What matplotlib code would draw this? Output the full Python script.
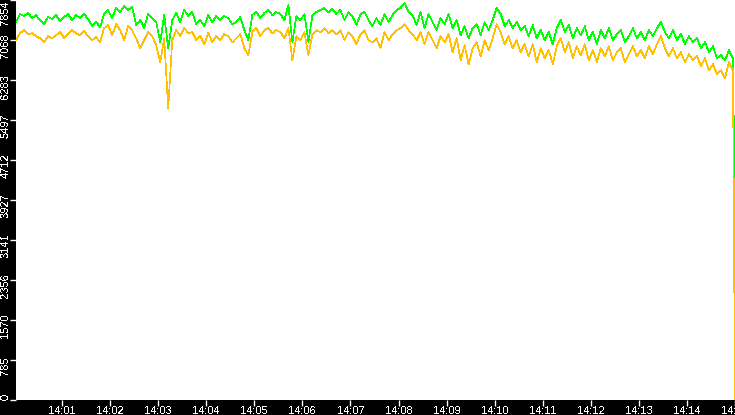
import numpy as np
import pandas as pd
import matplotlib
matplotlib.use('Agg')
import matplotlib.pyplot as plt
import matplotlib.dates as mdates
from matplotlib.ticker import FixedLocator, FuncFormatter
from matplotlib.transforms import ScaledTranslation

plt.rcParams['font.family'] = ['Liberation Sans', 'DejaVu Sans']
plt.rcParams['text.antialiased'] = False

# samples every 5 s starting 14:00:02.5, last sample at 14:15:00
start_time = '2024-01-01 14:00:02.500'
step = '5s'
end_time = '2024-01-01 14:15:00'

green_vals = [
    7420, 7578, 7538, 7598, 7499, 7558, 7459, 7380, 7519, 7479, 7558, 7440, 7519, 7578, 7459,
    7558, 7499, 7578, 7479, 7341, 7420, 7321, 7578, 7657, 7499, 7696, 7617, 7736, 7657, 7716,
    7361, 7459, 7302, 7578, 7499, 7420, 7025, 7558, 6907, 7459, 7598, 7420, 7657, 7538, 7617,
    7380, 7459, 7341, 7558, 7420, 7538, 7459, 7538, 7499, 7380, 7420, 7519, 7262, 7065, 7558,
    7617, 7499, 7598, 7657, 7558, 7617, 7578, 7459, 7755, 7025, 7538, 7459, 7578, 7025, 7558,
    7617, 7657, 7696, 7617, 7676, 7578, 7657, 7459, 7617, 7538, 7361, 7578, 7617, 7459, 7341,
    7499, 7361, 7578, 7420, 7558, 7657, 7696, 7795, 7617, 7558, 7361, 7617, 7302, 7578, 7420,
    7262, 7499, 7380, 7578, 7302, 7459, 7163, 7341, 7104, 7302, 7380, 7163, 7420, 7262, 7459,
    7696, 7578, 7341, 7459, 7302, 7420, 7262, 7341, 7144, 7361, 7104, 7262, 7065, 7223, 6986,
    7302, 7459, 7223, 7361, 7104, 7302, 7163, 7341, 7065, 7223, 6986, 7262, 7104, 7302, 7065,
    7183, 7262, 7025, 7144, 7302, 7104, 7223, 7065, 7262, 7144, 7302, 7420, 7223, 7104, 7262,
    7065, 7183, 6986, 7144, 7025, 7104, 6907, 7025, 6828, 6946, 6710, 6769, 6670, 6868, 6710,
    3270,
]

yellow_vals = [
    7065, 7203, 7262, 7183, 7203, 7144, 7104, 7025, 7144, 7104, 7163, 7223, 7104, 7183, 7262,
    7203, 7163, 7242, 7144, 7065, 7124, 7025, 7302, 7361, 7163, 7380, 7262, 7065, 7341, 7262,
    7104, 6907, 7065, 7223, 7144, 6966, 6631, 7104, 5723, 7065, 7262, 7144, 7302, 7203, 7223,
    7065, 7144, 6986, 7203, 7025, 7144, 7065, 7183, 7144, 7025, 7104, 7183, 6907, 6769, 7223,
    7302, 7144, 7262, 7302, 7203, 7262, 7223, 7104, 7302, 6670, 7144, 7065, 7223, 6769, 7183,
    7262, 7223, 7302, 7203, 7262, 7183, 7262, 7065, 7223, 7144, 6986, 7183, 7262, 7065, 7025,
    7104, 6907, 7223, 7065, 7183, 7262, 7302, 7380, 7262, 7183, 7065, 7223, 6986, 7223, 7065,
    6907, 7144, 7025, 7183, 6828, 7104, 6670, 6966, 6591, 6907, 7025, 6749, 7065, 6868, 7104,
    7380, 7223, 6986, 7144, 6907, 7065, 6828, 6986, 6749, 6986, 6631, 6907, 6710, 6868, 6591,
    6946, 7104, 6828, 7025, 6710, 6946, 6769, 6986, 6670, 6868, 6631, 6907, 6749, 6946, 6670,
    6828, 6907, 6631, 6789, 6946, 6749, 6868, 6710, 6946, 6789, 6986, 7144, 6907, 6749, 6907,
    6710, 6828, 6631, 6789, 6670, 6749, 6552, 6710, 6473, 6591, 6394, 6473, 6315, 6631, 6473,
    0,
]

y_max = 7854
n_yticks = 11

times = list(pd.date_range(start_time, periods=len(green_vals) - 1, freq=step))
times.append(pd.Timestamp(end_time))
df = pd.DataFrame({'time': times, 'green': green_vals, 'yellow': yellow_vals})

W, H = 735, 415
fig = plt.figure(figsize=(W / 100, H / 100), dpi=100, facecolor='black')
ax = fig.add_axes([16 / W, 15 / H, (W - 16) / W, 400 / H])
ax.set_facecolor('white')

ax.plot(df['time'], df['green'], color='#00ff00', lw=0.5, antialiased=False)
ax.plot(df['time'], df['yellow'], color='#ffc000', lw=0.5, antialiased=False)

ax.set_xlim(df['time'].iloc[0], df['time'].iloc[-1])
ax.set_ylim(0, y_max)

ax.xaxis.set_major_locator(mdates.MinuteLocator())
ax.xaxis.set_major_formatter(mdates.DateFormatter('%H:%M'))
ax.yaxis.set_major_locator(FixedLocator(np.linspace(0, y_max, n_yticks)))
ax.yaxis.set_major_formatter(FuncFormatter(lambda v, p: str(int(v))))

for s in ax.spines.values():
    s.set_visible(False)

ax.tick_params(axis='both', colors='white', length=4, width=1, labelsize=8, direction='out')
ax.tick_params(axis='x', pad=0.5)
ax.tick_params(axis='y', pad=0)

fig.canvas.draw()
off = ScaledTranslation(0, -6 / 100, fig.dpi_scale_trans)
ylabels = ax.get_yticklabels()
for i, lab in enumerate(ylabels):
    lab.set_rotation(90)
    lab.set_ha('right')
    if i == len(ylabels) - 1:
        lab.set_va('top')
    elif i == 0:
        lab.set_va('bottom')
    else:
        lab.set_va('center')
        lab.set_transform(lab.get_transform() + off)

fig.savefig('out.png', dpi=100, facecolor='black')
